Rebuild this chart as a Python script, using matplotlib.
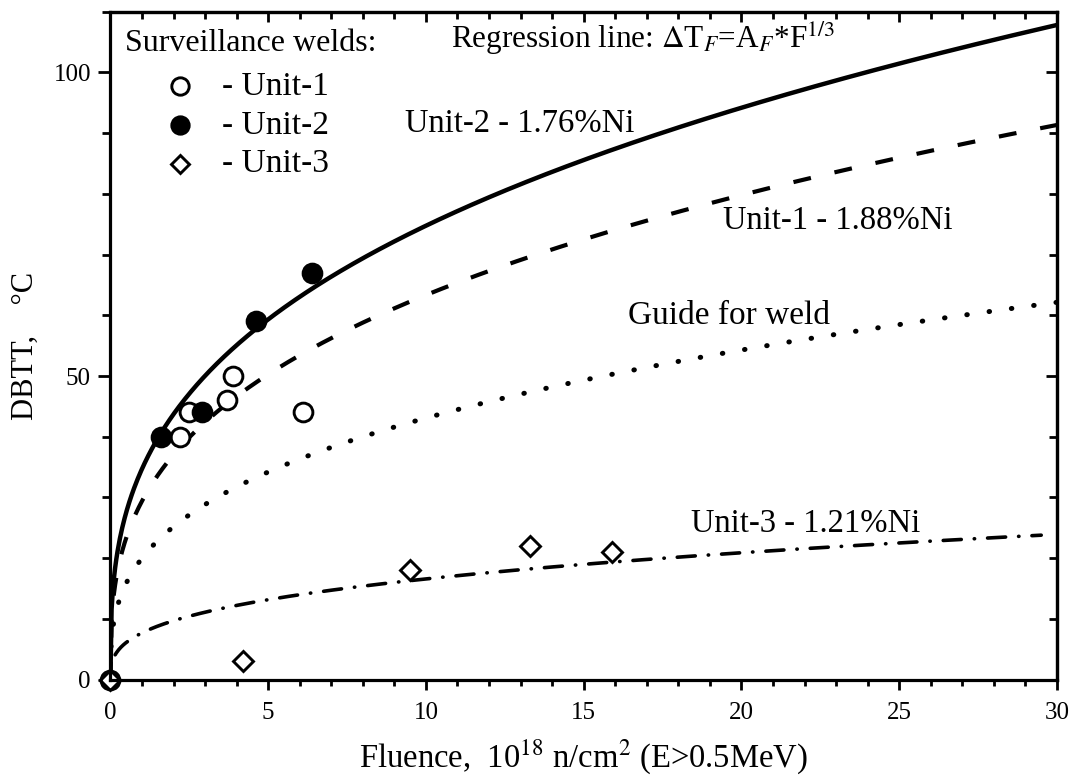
import numpy as np
import matplotlib
matplotlib.use("Agg")
import matplotlib.pyplot as plt
from matplotlib.ticker import MultipleLocator

plt.rcParams['font.family'] = ['Liberation Serif', 'DejaVu Serif']
plt.rcParams['mathtext.fontset'] = 'stix'

# Surveillance data: fluence (1e18 n/cm2) and DBTT shift (deg C)
unit1_f = [0.0, 2.2, 2.5, 3.7, 3.9, 6.1]
unit1_t = [0.0, 40.0, 44.0, 46.0, 50.0, 44.0]
unit2_f = [1.6, 2.9, 4.6, 6.4]
unit2_t = [40.0, 44.0, 59.0, 67.0]
unit3_f = [0.0, 4.2, 9.5, 13.3, 15.9]
unit3_t = [0.0, 3.0, 18.0, 22.0, 21.0]

# Coefficients A_F of the regression lines dT = A_F * F^(1/3)
a_unit2 = 34.7
a_unit1 = 29.4
a_guide = 20.0
a_unit3 = 7.7

x_ticks = [0, 5, 10, 15, 20, 25, 30]
y_ticks = [0, 50, 100]

fig = plt.figure(figsize=(10.72, 7.83), dpi=100)
ax = fig.add_axes([0.103, 0.132, 0.883, 0.853])

f = np.linspace(0, 30, 800)
ax.plot(f, a_unit2 * f ** (1 / 3), color='black', lw=3.2, solid_capstyle='round')
ax.plot(f, a_unit1 * f ** (1 / 3), color='black', lw=3.0, dashes=(4.3, 5.8))
fg = np.linspace(0.02, 30, 800)
ax.plot(fg, a_guide * fg ** (1 / 3), color='black', lw=3.6, dashes=(0.1, 4.4),
        dash_capstyle='round')
fd = np.linspace(0.15, 29.5, 800)
ax.plot(fd, a_unit3 * fd ** (1 / 3), color='black', lw=2.6,
        dashes=(5.0, 3.6, 0.1, 3.6), dash_capstyle='round')

ax.plot(unit1_f, unit1_t, 'o', ms=13.5, mfc='white', mec='black', mew=2.1, clip_on=False)
ax.plot(unit2_f, unit2_t, 'o', ms=13.5, mfc='black', mec='black', mew=2.1, clip_on=False)
ax.plot(unit3_f, unit3_t, 'D', ms=10.5, mfc='none', mec='black', mew=2.1, clip_on=False)

ax.set_xlim(0, 30)
ax.set_ylim(0, 110)
ax.set_xticks(x_ticks)
ax.set_yticks(y_ticks)
ax.xaxis.set_minor_locator(MultipleLocator(1))
ax.yaxis.set_minor_locator(MultipleLocator(10))
ax.tick_params(which='both', direction='out', top=False, right=False,
               labelsize=18, width=2)
ax.tick_params(axis='x', which='major', length=7, pad=9)
ax.tick_params(axis='x', which='minor', length=4.5)
ax.tick_params(axis='y', which='major', length=9, pad=5)
ax.tick_params(axis='y', which='minor', length=5.5)
for s in ax.spines.values():
    s.set_linewidth(2.3)

# inward ticks on the top and right edges
secx = ax.secondary_xaxis('top')
secx.set_xticks(x_ticks)
secx.xaxis.set_minor_locator(MultipleLocator(1))
secx.tick_params(which='both', direction='in', labeltop=False, width=2)
secx.tick_params(which='major', length=7)
secx.tick_params(which='minor', length=5)
secy = ax.secondary_yaxis('right')
secy.set_yticks(y_ticks)
secy.yaxis.set_minor_locator(MultipleLocator(10))
secy.tick_params(which='both', direction='in', labelright=False, width=2)
secy.tick_params(which='major', length=8)
secy.tick_params(which='minor', length=6)
for s in list(secx.spines.values()) + list(secy.spines.values()):
    s.set_linewidth(2.3)

ax.set_xlabel(r'Fluence,  10$^{18}$ n/cm$^{2}$ (E>0.5MeV)', fontsize=23.5, labelpad=10)
ax.set_ylabel('DBTT,    °C', fontsize=22, labelpad=10)

# legend block drawn as text with marker glyphs
ax.text(0.45, 104.8, 'Surveillance welds:', fontsize=23, va='center')
leg_y = [97.7, 91.3, 85.0]
ax.plot([2.2], [leg_y[0]], 'o', ms=12.5, mfc='white', mec='black', mew=2.1)
ax.plot([2.2], [leg_y[1]], 'o', ms=12.5, mfc='black', mec='black', mew=2.1)
ax.plot([2.2], [leg_y[2]], 'D', ms=9.5, mfc='none', mec='black', mew=2.1)
for yy, lab in zip(leg_y, ['- Unit-1', '- Unit-2', '- Unit-3']):
    ax.text(3.55, yy, lab, fontsize=24, va='center')

ax.text(10.8, 105.6, r'Regression line: $\Delta$T$_F$=A$_F$*F$^{1/3}$',
        fontsize=22.5, va='center')
ax.text(9.35, 91.5, 'Unit-2 - 1.76%Ni', fontsize=23.5, va='center')
ax.text(19.4, 75.5, 'Unit-1 - 1.88%Ni', fontsize=23.5, va='center')
ax.text(16.4, 60.0, 'Guide for weld', fontsize=24, va='center')
ax.text(18.4, 25.6, 'Unit-3 - 1.21%Ni', fontsize=23.5, va='center')

fig.savefig('out.png', dpi=100)
